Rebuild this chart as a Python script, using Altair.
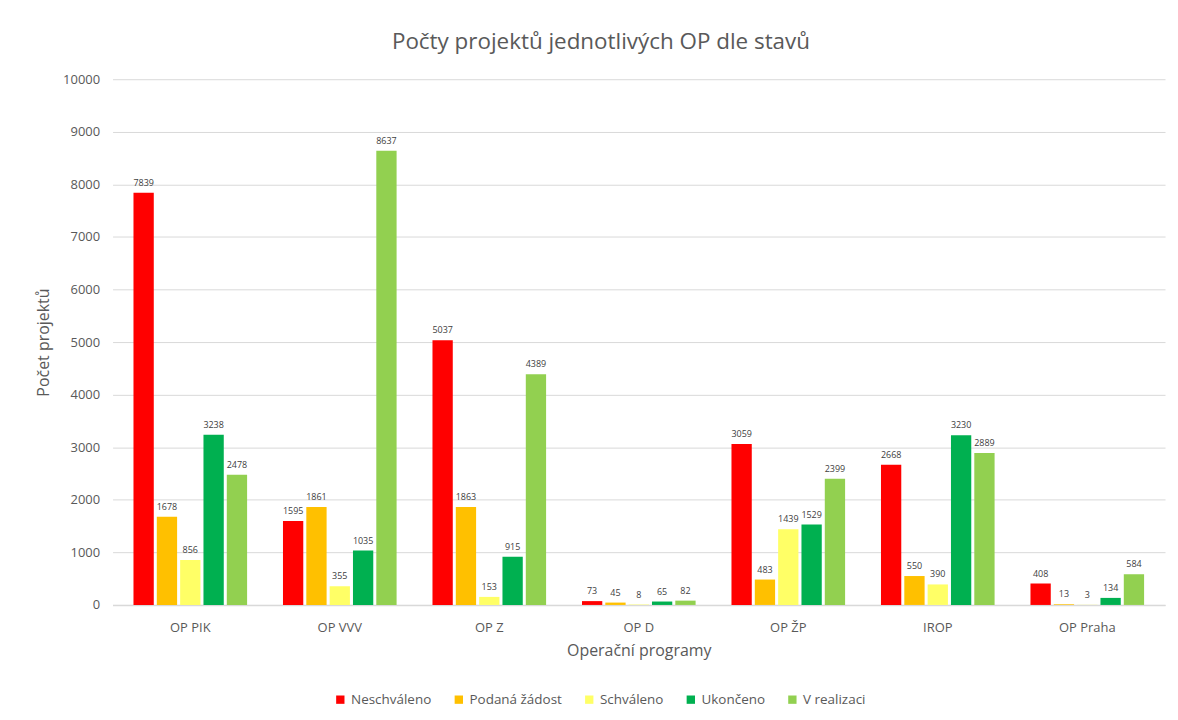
import altair as alt
import pandas as pd

programs = ["OP PIK", "OP VVV", "OP Z", "OP D", "OP ŽP", "IROP", "OP Praha"]
statuses = ["Neschváleno", "Podaná žádost", "Schváleno", "Ukončeno", "V realizaci"]
colors = ["#FF0000", "#FFC000", "#FFFF66", "#00B050", "#92D050"]

neschvaleno = [7839, 1595, 5037, 73, 3059, 2668, 408]
podana = [1678, 1861, 1863, 45, 483, 550, 13]
schvaleno = [856, 355, 153, 8, 1439, 390, 3]
ukonceno = [3238, 1035, 915, 65, 1529, 3230, 134]
v_realizaci = [2478, 8637, 4389, 82, 2399, 2889, 584]

series = [neschvaleno, podana, schvaleno, ukonceno, v_realizaci]
rows = []
for s, vals in zip(statuses, series):
    for p, v in zip(programs, vals):
        rows.append({"program": p, "status": s, "value": v})
df = pd.DataFrame(rows)

FONT = "Open Sans"

x = alt.X("program:N", sort=programs,
          scale=alt.Scale(paddingInner=0.24, paddingOuter=0.14),
          axis=alt.Axis(title="Operační programy", labelAngle=0, ticks=False,
                        labelPadding=17, titlePadding=8, labelFontSize=13,
                        titleFontSize=16, domainColor="#d9d9d9", domainWidth=1.5,
                        grid=False))
xo = alt.XOffset("status:N", sort=statuses,
                 scale=alt.Scale(paddingInner=0.13, paddingOuter=0))
y = alt.Y("value:Q", scale=alt.Scale(domain=[0, 10000]),
          axis=alt.Axis(title="Počet projektů", values=list(range(0, 10001, 1000)),
                        format="d", ticks=False, domain=False, labelPadding=13,
                        titlePadding=11, labelFontSize=13, titleFontSize=16,
                        gridColor="#d9d9d9"))

bars = alt.Chart(df).mark_bar().encode(
    x=x, xOffset=xo, y=y,
    color=alt.Color("status:N", sort=statuses,
                    scale=alt.Scale(domain=statuses, range=colors),
                    legend=alt.Legend(title=None, orient="none", direction="horizontal",
                                      legendX=222, legendY=616, symbolType="square",
                                      symbolSize=70, symbolStrokeWidth=0,
                                      labelFontSize=13.5, columnPadding=20,
                                      labelColor="#595959")),
)

labels = alt.Chart(df).mark_text(dy=-10, fontSize=9, color="#404040", font=FONT).encode(
    x=alt.X("program:N", sort=programs), xOffset=alt.XOffset("status:N", sort=statuses),
    y="value:Q", text="value:Q",
)

chart = alt.layer(bars, labels).properties(
    width=1057, height=528,
    title=alt.TitleParams("Počty projektů jednotlivých OP dle stavů", fontSize=22.5,
                          font=FONT, fontWeight="normal", color="#595959",
                          offset=20, dx=-38),
    padding={"left": 105, "top": 70, "right": 5, "bottom": 106},
    autosize=alt.AutoSizeParams(type="none"),
).configure(font=FONT).configure_axis(
    labelColor="#595959", titleColor="#595959", labelFont=FONT, titleFont=FONT,
    titleFontWeight="normal"
).configure_legend(labelFont=FONT).configure_view(stroke=None)

chart.save("out.html", embed_options={"renderer": "svg", "actions": False})
